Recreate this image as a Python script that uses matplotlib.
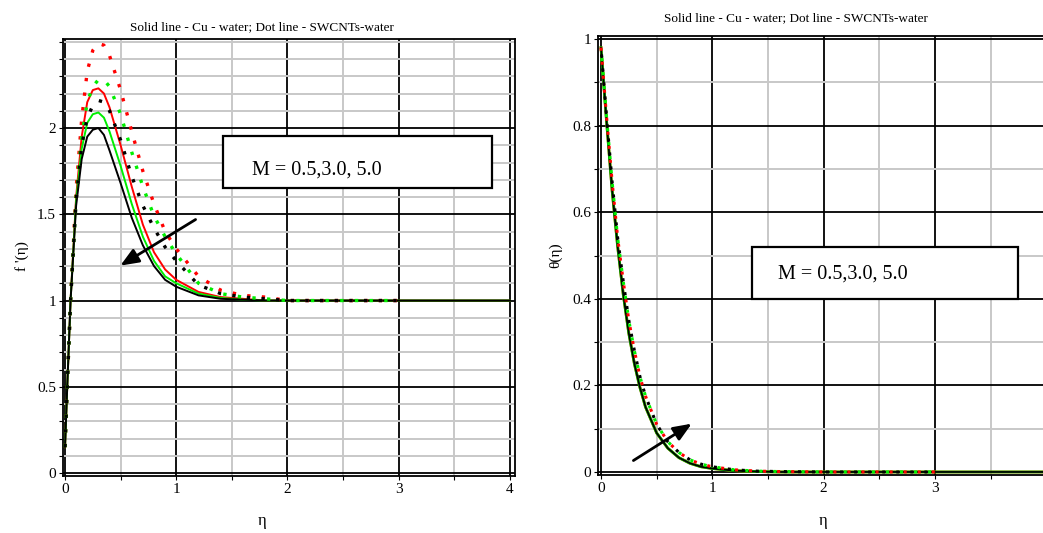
import matplotlib.pyplot as plt
from matplotlib.patches import Rectangle

# ---- velocity profiles f'(eta) ----
eta_f = [0, 0.02, 0.05, 0.1, 0.15, 0.2, 0.25, 0.3, 0.35, 0.4, 0.5, 0.6, 0.7,
         0.8, 0.9, 1.0, 1.2, 1.4, 1.6, 1.8, 2.0, 2.5, 3.0, 4.0]
f_cu_black = [0.15, 0.5, 1.0, 1.55, 1.82, 1.95, 1.99, 2.0, 1.96, 1.87, 1.68, 1.48, 1.32,
              1.2, 1.12, 1.08, 1.03, 1.01, 1.005, 1.0, 1.0, 1.0, 1.0, 1.0]
f_cu_green = [0.15, 0.5, 1.0, 1.58, 1.88, 2.03, 2.08, 2.09, 2.06, 1.98, 1.78, 1.56, 1.37,
              1.23, 1.14, 1.10, 1.04, 1.015, 1.005, 1.0, 1.0, 1.0, 1.0, 1.0]
f_cu_red = [0.15, 0.5, 1.0, 1.6, 1.95, 2.15, 2.22, 2.23, 2.2, 2.12, 1.9, 1.66, 1.44,
            1.28, 1.18, 1.12, 1.05, 1.02, 1.01, 1.0, 1.0, 1.0, 1.0, 1.0]

eta_fd = [0, 0.02, 0.05, 0.1, 0.15, 0.2, 0.25, 0.3, 0.35, 0.4, 0.5, 0.6, 0.7,
          0.8, 0.9, 1.0, 1.2, 1.4, 1.6, 1.8, 2.0, 2.5, 3.0]
f_sw_black = [0.15, 0.5, 1.0, 1.58, 1.9, 2.06, 2.13, 2.16, 2.15, 2.1, 1.93, 1.72, 1.55,
              1.42, 1.31, 1.23, 1.09, 1.04, 1.02, 1.01, 1.0, 1.0, 1.0]
f_sw_green = [0.15, 0.5, 1.0, 1.6, 1.95, 2.15, 2.24, 2.28, 2.28, 2.24, 2.08, 1.86, 1.66,
              1.49, 1.37, 1.27, 1.10, 1.04, 1.02, 1.01, 1.0, 1.0, 1.0]
f_sw_red = [0.15, 0.5, 1.0, 1.65, 2.05, 2.33, 2.45, 2.49, 2.48, 2.42, 2.22, 1.98, 1.75,
            1.56, 1.40, 1.30, 1.14, 1.06, 1.03, 1.02, 1.0, 1.0, 1.0]

# ---- temperature profiles theta(eta) ----
eta_t = [0, 0.05, 0.1, 0.15, 0.2, 0.25, 0.3, 0.35, 0.4, 0.5, 0.6, 0.7, 0.8, 0.9,
         1.0, 1.2, 1.4, 1.6, 2.0, 3.0, 4.0]
t_cu = [0.98, 0.81, 0.65, 0.52, 0.41, 0.32, 0.25, 0.195, 0.15, 0.09, 0.055, 0.033,
        0.02, 0.012, 0.008, 0.003, 0.001, 0.0, 0.0, 0.0, 0.0]
eta_td = [0, 0.05, 0.1, 0.15, 0.2, 0.25, 0.3, 0.35, 0.4, 0.5, 0.6, 0.7, 0.8, 0.9,
          1.0, 1.2, 1.4, 1.6, 2.0, 3.0]
t_sw = [0.98, 0.82, 0.67, 0.54, 0.44, 0.35, 0.28, 0.22, 0.175, 0.11, 0.07, 0.045,
        0.028, 0.018, 0.012, 0.005, 0.002, 0.001, 0.0, 0.0]

title = "Solid line - Cu - water; Dot line - SWCNTs-water"
box_text = "M = 0.5,3.0, 5.0"
serif = "Liberation Serif"
RED, GREEN, BLACK = "#ff0000", "#00ee00", "#000000"
DOT = (0, (1, 3.4))

plt.rcParams['font.family'] = serif

W, H = 1043, 533
fig = plt.figure(figsize=(W / 100, H / 100), dpi=100)


def px_axes(l, r, t, b):
    return fig.add_axes([l / W, 1 - b / H, (r - l) / W, (b - t) / H])


def style(ax, xticks, xlabels, yticks, yminor, ylabels):
    ax.set_xticks(xticks)
    ax.set_xticklabels(xlabels)
    ax.set_yticks(yticks)
    ax.set_yticklabels(ylabels)
    ax.set_yticks(yminor, minor=True)
    ax.grid(True, which='minor', axis='y', color='#c8c8c8', lw=1.4, zorder=0)
    for v in xticks:
        if v != int(v):
            ax.axvline(v, color='#c8c8c8', lw=1.4, zorder=0)
    for v in xticks:
        if v == int(v):
            ax.axvline(v, color='black', lw=1.3, zorder=0.5)
    for v in yticks:
        ax.axhline(v, color='black', lw=1.3, zorder=0.5)
    ax.tick_params(axis='both', which='both', direction='out', length=3,
                   width=0.8, labelsize=11, pad=2)
    for s in ax.spines.values():
        s.set_linewidth(1.3)


xt = [0, 0.5, 1, 1.5, 2, 2.5, 3, 3.5, 4]

# ---------------- left panel ----------------
axL = px_axes(63, 515, 39, 476)
axL.set_xlim(-0.018, 4.045)
axL.set_ylim(-0.017, 2.516)
style(axL, xt, ["0", "", "1", "", "2", "", "3", "", "4"], [0, 0.5, 1, 1.5, 2],
      [0.1 * i for i in range(26)], ["0", "0.5", "1", "1.5", "2"])

for y, c in [(f_cu_red, RED), (f_cu_green, GREEN), (f_cu_black, BLACK)]:
    axL.plot(eta_f, y, color=c, lw=1.4, zorder=3)
for y, c in [(f_sw_red, RED), (f_sw_green, GREEN), (f_sw_black, BLACK)]:
    axL.plot(eta_fd, y, color=c, lw=2.4, ls=DOT, zorder=3)

axL.annotate("", xy=(0.476, 1.194), xytext=(1.195, 1.478),
             arrowprops=dict(arrowstyle='-|>,head_length=1.1,head_width=0.45',
                             color='black', lw=2), zorder=5)
axL.add_patch(Rectangle((0.354, 0.659), 0.595, 0.119, transform=axL.transAxes,
                        facecolor='white', edgecolor='black', lw=1.6, zorder=4))
axL.text(0.418, 0.70, box_text, transform=axL.transAxes, fontsize=14.5,
         va='center', ha='left', zorder=5)

# ---------------- right panel ----------------
axR = px_axes(598, 1051, 36, 475)
axR.set_xlim(-0.027, 4.043)
axR.set_ylim(-0.007, 1.007)
style(axR, xt, ["0", "", "1", "", "2", "", "3", "", ""], [0, 0.2, 0.4, 0.6, 0.8, 1],
      [0.1 * i for i in range(11)], ["0", "0.2", "0.4", "0.6", "0.8", "1"])

for c in [RED, GREEN]:
    axR.plot(eta_t, t_cu, color=c, lw=2.0, zorder=3)
axR.plot(eta_t, t_cu, color=BLACK, lw=1.3, zorder=3)
for c, off in [(RED, 0), (GREEN, 1.2), (BLACK, 2.4)]:
    axR.plot(eta_td, t_sw, color=c, lw=2.2, ls=(off, (1, 3.6)), zorder=3)

axR.annotate("", xy=(0.836, 0.115), xytext=(0.27, 0.023),
             arrowprops=dict(arrowstyle='-|>,head_length=1.1,head_width=0.45',
                             color='black', lw=2), zorder=5)
axR.add_patch(Rectangle((0.340, 0.401), 0.587, 0.118, transform=axR.transAxes,
                        facecolor='white', edgecolor='black', lw=1.6, zorder=4))
axR.text(0.397, 0.458, box_text, transform=axR.transAxes, fontsize=14.5,
         va='center', ha='left', zorder=5)

# ---------------- text ----------------
fig.text(262 / W, 1 - 27 / H, title, ha='center', va='center', fontsize=9.5)
fig.text(796 / W, 1 - 18 / H, title, ha='center', va='center', fontsize=9.5)
fig.text(262 / W, 1 - 521 / H, "η", ha='center', va='center', fontsize=12)
fig.text(823 / W, 1 - 521 / H, "η", ha='center', va='center', fontsize=12)
fig.text(22 / W, 1 - 256 / H, "f '(η)", ha='center', va='center', fontsize=11,
         rotation=90)
fig.text(556 / W, 1 - 255 / H, "θ(η)", ha='center', va='center', fontsize=11,
         rotation=90)

fig.savefig("out.png", dpi=100)
